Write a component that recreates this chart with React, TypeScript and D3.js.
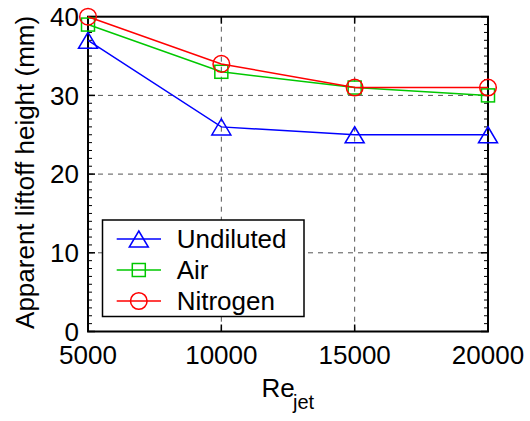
import React from "react";
import * as d3 from "d3";

const reValues = [5000, 10000, 15000, 20000];
const undiluted = [37, 26, 25, 25];
const air = [39, 33, 31, 30];
const nitrogen = [40, 34, 31, 31];
const seriesNames = ["Undiluted", "Air", "Nitrogen"];
const xTicks = [5000, 10000, 15000, 20000];
const yTicks = [0, 10, 20, 30, 40];

const W = 530, H = 421;
const M = { left: 88, right: 488, top: 16.7, bottom: 331.5 };
const FONT = "'Liberation Sans', Arial, Helvetica, sans-serif";

const colors = ["#0000ff", "#00c800", "#ff0000"];
const markers = ["triangle", "square", "circle"];

function Marker({ type, x, y, color }: { type: string; x: number; y: number; color: string }) {
  if (type === "triangle") {
    const w = 9.5, h = 8;
    return <path d={`M${x},${y - h} L${x + w},${y + h} L${x - w},${y + h} Z`} fill="none" stroke={color} strokeWidth={1.5} />;
  }
  if (type === "square") {
    const s = 6.5;
    return <rect x={x - s} y={y - s} width={2 * s} height={2 * s} fill="none" stroke={color} strokeWidth={1.5} />;
  }
  return <circle cx={x} cy={y} r={8.3} fill="none" stroke={color} strokeWidth={1.5} />;
}

export default function App() {
  const x = d3.scaleLinear().domain([5000, 20000]).range([M.left, M.right]);
  const y = d3.scaleLinear().domain([0, 40]).range([M.bottom, M.top]);
  const data = [undiluted, air, nitrogen];
  const line = d3.line<number>().x((_, i) => x(reValues[i])).y((d) => y(d));
  const minor = d3.range(0, 41, 1).filter((v) => v % 10 !== 0);

  const legX = 102.5, legY = 220, legW = 201.5, legH = 96.5;
  const rowY = [239, 270, 301];

  return (
    <svg width={W} height={H} style={{ position: "absolute", left: 0, top: 0, background: "#fff" }} fontFamily={FONT}>
      <rect x={0} y={0} width={W} height={H} fill="#fff" />
      {/* grid */}
      {xTicks.slice(1, -1).map((t) => (
        <line key={"gx" + t} x1={x(t)} x2={x(t)} y1={M.top} y2={M.bottom} stroke="#555" strokeWidth={1} strokeDasharray="5,5" />
      ))}
      {yTicks.slice(1, -1).map((t) => (
        <line key={"gy" + t} x1={M.left} x2={M.right} y1={y(t)} y2={y(t)} stroke="#555" strokeWidth={1} strokeDasharray="5,5" />
      ))}
      {/* minor y ticks */}
      {minor.map((t) => (
        <g key={"my" + t}>
          <line x1={M.left} x2={M.left + 4} y1={y(t)} y2={y(t)} stroke="#000" strokeWidth={1} />
          <line x1={M.right} x2={M.right - 4} y1={y(t)} y2={y(t)} stroke="#000" strokeWidth={1} />
        </g>
      ))}
      {/* major ticks */}
      {yTicks.map((t) => (
        <g key={"ty" + t}>
          <line x1={M.left} x2={M.left + 7} y1={y(t)} y2={y(t)} stroke="#000" strokeWidth={1.5} />
          <line x1={M.right} x2={M.right - 7} y1={y(t)} y2={y(t)} stroke="#000" strokeWidth={1.5} />
        </g>
      ))}
      {xTicks.map((t) => (
        <g key={"tx" + t}>
          <line x1={x(t)} x2={x(t)} y1={M.bottom} y2={M.bottom - 7} stroke="#000" strokeWidth={1.5} />
          <line x1={x(t)} x2={x(t)} y1={M.top} y2={M.top + 7} stroke="#000" strokeWidth={1.5} />
        </g>
      ))}
      {/* axes box */}
      <rect x={M.left} y={M.top} width={M.right - M.left} height={M.bottom - M.top} fill="none" stroke="#000" strokeWidth={2} />
      {/* series */}
      {data.map((vals, si) => (
        <g key={"s" + si}>
          <path d={line(vals) || ""} fill="none" stroke={colors[si]} strokeWidth={1.5} />
          {vals.map((v, i) => (
            <Marker key={i} type={markers[si]} x={x(reValues[i])} y={y(v)} color={colors[si]} />
          ))}
        </g>
      ))}
      {/* tick labels */}
      {yTicks.map((t) => (
        <text key={"ly" + t} x={79} y={y(t)} dy="0.35em" textAnchor="end" fontSize={26} fill="#000">{t}</text>
      ))}
      {xTicks.map((t) => (
        <text key={"lx" + t} x={x(t)} y={364} textAnchor="middle" fontSize={26} fill="#000">{t}</text>
      ))}
      {/* axis labels */}
      <text x={261.5} y={397} fontSize={26} fill="#000">Re</text>
      <text x={293} y={409} fontSize={20} fill="#000">jet</text>
      <text transform={`translate(34,${172.4}) rotate(-90)`} textAnchor="middle" fontSize={26} fill="#000">Apparent liftoff height (mm)</text>
      {/* legend */}
      <rect x={legX} y={legY} width={legW} height={legH} fill="#fff" stroke="#000" strokeWidth={1.5} />
      {seriesNames.map((name, i) => (
        <g key={"lg" + i}>
          <line x1={116.7} x2={161} y1={rowY[i]} y2={rowY[i]} stroke={colors[i]} strokeWidth={1.5} />
          <Marker type={markers[i]} x={138.8} y={rowY[i]} color={colors[i]} />
          <text x={176.7} y={rowY[i]} dy="0.35em" fontSize={26} fill="#000">{name}</text>
        </g>
      ))}
    </svg>
  );
}
